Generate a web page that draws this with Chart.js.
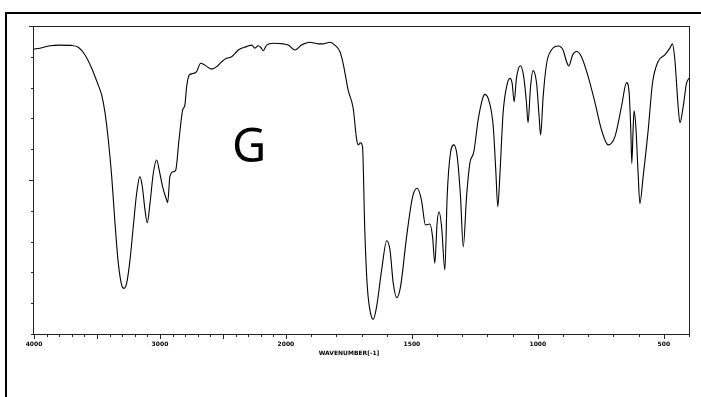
<!DOCTYPE html>
<html>
<head>
<meta charset="utf-8">
<script src="https://cdn.jsdelivr.net/npm/chart.js@4.4.1/dist/chart.umd.min.js"></script>
<style>
  body { margin: 0; background: #fff; }
  canvas { display: block; }
</style>
</head>
<body>
<canvas id="myChart" width="701" height="397"></canvas>
<script>
// IR spectrum: wavenumber (cm-1) and % transmittance
var wavenumbers = [4000, 3952, 3873, 3794, 3701, 3648, 3595, 3542, 3490, 3463, 3436, 3410, 3383, 3357, 3331, 3304, 3286, 3264, 3238, 3212,
  3185, 3159, 3140, 3119, 3101, 3079, 3053, 3026, 3006, 2979, 2947, 2939, 2921, 2894, 2875, 2849, 2820, 2802, 2788, 2767,
  2736, 2709, 2677, 2643, 2590, 2550, 2510, 2471, 2431, 2378, 2312, 2272, 2246, 2220, 2201, 2180, 2153, 2101, 2021, 1991,
  1964, 1938, 1905, 1872, 1852, 1825, 1806, 1786, 1773, 1753, 1733, 1719, 1713, 1704, 1696, 1687, 1677, 1664, 1653, 1640,
  1620, 1600, 1587, 1574, 1560, 1545, 1521, 1497, 1479, 1462, 1446, 1429, 1418, 1409, 1400, 1392, 1382, 1369, 1360, 1347,
  1333, 1320, 1307, 1296, 1283, 1270, 1254, 1237, 1219, 1210, 1193, 1177, 1167, 1159, 1151, 1138, 1124, 1111, 1102, 1094,
  1085, 1069, 1056, 1045, 1039, 1029, 1019, 1005, 995, 989, 979, 965, 946, 919, 900, 886, 877, 862, 846, 827,
  800, 774, 747, 721, 694, 668, 648, 638, 631, 627, 622, 618, 611, 602, 595, 582, 562, 545, 523, 496,
  476, 466, 456, 443, 436, 423, 410, 400]
var transmittance = [92.5, 92.8, 93.6, 93.8, 93.7, 93.1, 90.6, 86.3, 80.8, 77.6, 71.8, 63.0, 51.1, 36.0, 23.1, 15.9, 14.8, 16.6, 24.0, 34.8,
  45.7, 51.1, 47.8, 40.3, 36.1, 42.4, 52.2, 56.5, 53.2, 47.8, 43.5, 42.6, 51.1, 52.7, 53.2, 63.0, 72.7, 74.4, 80.3, 84.1,
  84.6, 85.2, 87.9, 87.3, 86.0, 86.8, 88.4, 89.5, 90.0, 92.2, 93.3, 93.8, 92.8, 93.6, 93.1, 92.0, 93.8, 94.4, 94.2, 93.8,
  92.2, 93.8, 94.7, 94.2, 94.2, 94.7, 93.8, 91.7, 87.9, 79.2, 73.3, 63.0, 61.4, 62.1, 60.8, 33.8, 15.4, 6.7, 4.8, 8.9,
  20.8, 30.3, 27.3, 16.5, 11.8, 15.4, 31.6, 44.6, 47.3, 43.5, 35.4, 35.7, 31.6, 23.0, 35.9, 39.7, 34.8, 20.8, 44.6, 58.7,
  61.4, 57.6, 44.6, 28.3, 44.6, 55.4, 59.2, 69.5, 76.5, 77.8, 75.4, 67.3, 53.2, 41.3, 51.1, 71.7, 80.3, 83.0, 81.4, 75.4,
  83.0, 87.1, 83.5, 74.9, 68.6, 80.3, 85.5, 81.4, 70.6, 64.6, 77.0, 87.9, 92.2, 93.5, 92.2, 88.4, 87.0, 90.6, 91.7, 90.0,
  83.5, 75.4, 66.2, 61.4, 64.1, 73.8, 81.6, 78.7, 66.2, 55.4, 66.2, 72.5, 67.3, 52.2, 42.4, 51.1, 66.2, 81.4, 88.4, 90.6,
  92.8, 94.2, 88.9, 73.8, 68.6, 73.8, 81.4, 83.0]
var labelTicks = [4000, 3000, 2000, 1500, 1000, 500]
var xTitle = 'WAVENUMBER[-1]'
var sampleLabel = 'G'

// the axis is half scale above 2000 cm-1
function toAxis(wn) {
  return wn >= 2000 ? (4000 - wn) / 2 : 1000 + (2000 - wn)
}
function fromAxis(u) {
  return u <= 1000 ? 4000 - u * 2 : 2000 - (u - 1000)
}

var points = wavenumbers.map(function (wn, i) {
  return { x: toAxis(wn), y: transmittance[i] }
})

var framePlugin = {
  id: 'frame',
  afterDraw: function (chart) {
    var c = chart.ctx
    var a = chart.chartArea
    var xs = chart.scales.x
    var ys = chart.scales.y
    c.save()
    // outer frame
    c.fillStyle = '#000'
    c.fillRect(5, 12, 2, 397)
    c.fillRect(5, 12, 701, 2)
    // plot box
    c.strokeStyle = '#222'
    c.lineWidth = 1
    c.beginPath()
    c.moveTo(29, a.top + 0.5); c.lineTo(a.right, a.top + 0.5)
    c.moveTo(a.right + 0.5, a.top); c.lineTo(a.right + 0.5, a.bottom)
    c.moveTo(a.left - 0.5, a.top); c.lineTo(a.left - 0.5, a.bottom)
    c.moveTo(a.left - 1, a.bottom + 0.5); c.lineTo(a.right + 1, a.bottom + 0.5)
    c.stroke()
    // x ticks every 100 cm-1
    c.beginPath()
    for (var wn = 4000; wn >= 400; wn -= 100) {
      var px = Math.round(xs.getPixelForValue(toAxis(wn))) + 0.5
      var len = wn % 500 === 0 ? 5 : 3
      c.moveTo(px, a.bottom)
      c.lineTo(px, a.bottom + len)
    }
    // y ticks every 10 %
    for (var t = 0; t < 100; t += 10) {
      var py = Math.round(ys.getPixelForValue(t)) + 0.5
      c.moveTo(a.left - (t === 50 ? 5 : 3), py)
      c.lineTo(a.left, py)
    }
    c.stroke()
    // axis title
    c.fillStyle = '#000'
    c.font = 'bold 6px "DejaVu Sans"'
    c.textAlign = 'center'
    c.textBaseline = 'middle'
    c.fillText(xTitle, 349, 353)
    // sample letter
    c.font = '47px "Noto Sans"'
    c.textBaseline = 'alphabetic'
    c.fillText(sampleLabel, 249, 162)
    c.restore()
  }
}

var config = {
  type: 'line',
  data: {
    datasets: [{
      data: points,
      borderColor: '#000',
      borderWidth: 1.1,
      pointRadius: 0,
      fill: false,
      cubicInterpolationMode: 'monotone'
    }]
  },
  options: {
    responsive: false,
    animation: false,
    layout: { padding: { left: 34, right: 12, top: 26, bottom: 0 } },
    plugins: { legend: { display: false }, tooltip: { enabled: false } },
    scales: {
      x: {
        type: 'linear',
        min: 0,
        max: 2600,
        grid: { display: false, drawTicks: false },
        border: { display: false },
        afterBuildTicks: function (scale) {
          scale.ticks = labelTicks.map(function (wn) { return { value: toAxis(wn) } })
        },
        afterFit: function (scale) {
          scale.height = 63
          scale.paddingLeft = 0
          scale.paddingRight = 0
        },
        ticks: {
          autoSkip: false,
          maxRotation: 0,
          padding: 7,
          color: '#000',
          font: { family: 'DejaVu Sans', size: 6, weight: 'bold' },
          callback: function (value) { return String(Math.round(fromAxis(value))) }
        }
      },
      y: { min: 0, max: 100, display: false }
    }
  },
  plugins: [framePlugin]
}

var myChart = new Chart(document.getElementById('myChart'), config)
</script>
</body>
</html>
